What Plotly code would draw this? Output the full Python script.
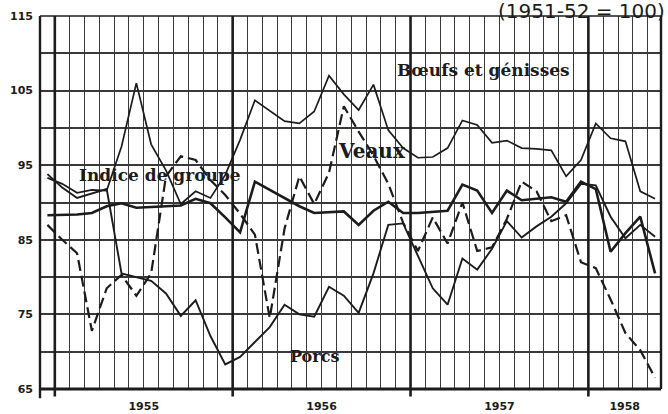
import plotly.graph_objects as go

# ---------------- data (monthly, Dec 1954 -> May 1958; 1951-52 = 100) ----------------
MONTHS = ["1954-12",
          "1955-01", "1955-02", "1955-03", "1955-04", "1955-05", "1955-06",
          "1955-07", "1955-08", "1955-09", "1955-10", "1955-11", "1955-12",
          "1956-01", "1956-02", "1956-03", "1956-04", "1956-05", "1956-06",
          "1956-07", "1956-08", "1956-09", "1956-10", "1956-11", "1956-12",
          "1957-01", "1957-02", "1957-03", "1957-04", "1957-05", "1957-06",
          "1957-07", "1957-08", "1957-09", "1957-10", "1957-11", "1957-12",
          "1958-01", "1958-02", "1958-03", "1958-04", "1958-05"]

BOEUFS = [93.3, 92.5, 91.3, 91.7, 91.6, 97.5, 106.0, 97.8, 94.3, 89.8, 91.5, 90.6,
          93.7, 98.4, 103.7, 102.3, 100.9, 100.6, 102.2, 107.0, 104.5, 102.4, 105.8, 99.7,
          97.3, 96.0, 96.1, 97.3, 101.0, 100.4, 98.0, 98.3, 97.3, 97.2, 97.0, 93.5,
          95.7, 100.6, 98.6, 98.2, 91.5, 90.5]

VEAUX = [87.0, 85.0, 83.2, 72.8, 78.5, 80.3, 77.5, 80.5, 93.5, 96.2, 95.7, 93.0,
         91.0, 88.5, 85.7, 74.5, 86.5, 93.5, 89.8, 94.0, 102.9, 99.5, 96.3, 92.5,
         87.3, 83.5, 88.0, 84.5, 90.0, 83.5, 84.0, 87.8, 92.8, 91.5, 87.5, 88.3,
         82.0, 81.2, 77.0, 72.5, 70.2, 66.5]

INDICE = [88.3, 88.4, 88.4, 88.6, 89.5, 89.9, 89.3, 89.4, 89.5, 89.6, 90.5, 89.9,
          88.0, 86.0, 92.8, 91.7, 90.6, 89.5, 88.6, 88.7, 88.8, 87.0, 88.9, 90.1,
          88.6, 88.6, 88.8, 88.9, 92.4, 91.6, 88.6, 91.6, 90.3, 90.5, 90.7, 90.1,
          92.8, 91.8, 83.4, 85.9, 88.1, 80.5]

PORCS = [93.8, 92.0, 90.6, 91.2, 91.8, 80.5, 80.0, 79.5, 77.8, 74.8, 76.9, 72.1,
         68.3, 69.3, 71.3, 73.3, 76.3, 75.0, 74.7, 78.7, 77.5, 75.2, 80.5, 87.0,
         87.2, 82.9, 78.5, 76.3, 82.5, 81.0, 83.8, 87.5, 85.3, 86.8, 88.1, 89.9,
         92.5, 92.3, 88.1, 85.2, 87.0, 85.4]

YEAR_LABELS = ["1955", "1956", "1957", "1958"]
YEAR_LABEL_POS = [7, 19, 31, 39.45]      # in months from start of Dec 1954
YEAR_STARTS = [1, 13, 25, 37]
Y_TICKVALS = [65, 70, 75, 80, 85, 90, 95, 100, 105, 110, 115]
Y_TICKTEXT = ["65", "", "75", "", "85", "", "95", "", "105", "", "115"]

SERIES_LABELS = [
    ("Bœufs et génisses", 29.9, 107.7, 17),
    ("Veaux", 22.4, 96.9, 20),
    ("Indice de groupe", 8.1, 93.7, 17),
    ("Porcs", 18.5, 69.3, 16),
]

# month centres
x = [i + 0.5 for i in range(len(MONTHS))]
INK = "#1c1c1c"
GRID = "#3a3a3a"

fig = go.Figure()
fig.add_trace(go.Scatter(x=x, y=BOEUFS, mode="lines", name="Bœufs et génisses",
                         line=dict(color=INK, width=1.7)))
fig.add_trace(go.Scatter(x=x, y=VEAUX, mode="lines", name="Veaux",
                         line=dict(color=INK, width=2.2, dash="11px,5px")))
fig.add_trace(go.Scatter(x=x, y=INDICE, mode="lines", name="Indice de groupe",
                         line=dict(color=INK, width=2.6)))
fig.add_trace(go.Scatter(x=x, y=PORCS, mode="lines", name="Porcs",
                         line=dict(color=INK, width=1.9)))

shapes = []
# year boundary lines (thicker, running slightly below the axis)
for ys in YEAR_STARTS:
    shapes.append(dict(type="line", xref="x", yref="paper", x0=ys, x1=ys,
                       y0=-0.02, y1=1, line=dict(color=INK, width=2.6)))
# frame
shapes.append(dict(type="line", xref="paper", yref="paper", x0=0, x1=0, y0=-0.025, y1=1,
                   line=dict(color=INK, width=2.4)))
shapes.append(dict(type="line", xref="paper", yref="paper", x0=1, x1=1, y0=0, y1=1,
                   line=dict(color=INK, width=2.4)))
shapes.append(dict(type="line", xref="paper", yref="paper", x0=0, x1=1, y0=0, y1=0,
                   line=dict(color=INK, width=2.8)))
shapes.append(dict(type="line", xref="paper", yref="paper", x0=0, x1=1, y0=1, y1=1,
                   line=dict(color=INK, width=1.6)))

annotations = []
for txt, ax, ay, sz in SERIES_LABELS:
    annotations.append(dict(text=txt, x=ax, y=ay, xref="x", yref="y", showarrow=False,
                            font=dict(family="DejaVu Serif", size=sz, color=INK, weight="bold"),
                            bgcolor="rgba(255,255,255,0)"))
annotations.append(dict(text="(1951-52 = 100)", xref="paper", yref="paper", x=1, y=1,
                        xanchor="right", yanchor="bottom", xshift=6, yshift=-9,
                        showarrow=False,
                        font=dict(family="DejaVu Sans", size=20, color=INK)))

fig.update_layout(
    width=668, height=414,
    margin=dict(l=40, r=7, t=16, b=25, autoexpand=False),
    paper_bgcolor="white", plot_bgcolor="white",
    showlegend=False,
    shapes=shapes, annotations=annotations,
    xaxis=dict(range=[0, 41.9], tickmode="array", tickvals=YEAR_LABEL_POS,
               ticktext=YEAR_LABELS, showgrid=False, zeroline=False, ticks="",
               ticklabelstandoff=9, automargin=False,
               tickfont=dict(family="DejaVu Sans", size=11, color=INK, weight="bold"),
               minor=dict(tick0=0, dtick=1, showgrid=True, gridcolor=GRID, gridwidth=1.2,
                          ticks="")),
    yaxis=dict(range=[65, 115], tickmode="array", tickvals=Y_TICKVALS,
               ticktext=Y_TICKTEXT, showgrid=True, gridcolor=GRID, gridwidth=1.5,
               zeroline=False, ticks="", ticklabelstandoff=6, automargin=False,
               tickfont=dict(family="DejaVu Sans", size=11, color=INK, weight="bold")),
)

# remove the browser's default 8px page margin so the figure sits at the window origin
fig.write_html("out.html",
               config={"displayModeBar": False},
               post_script="document.body.style.margin='0';document.body.style.overflow='hidden';")
